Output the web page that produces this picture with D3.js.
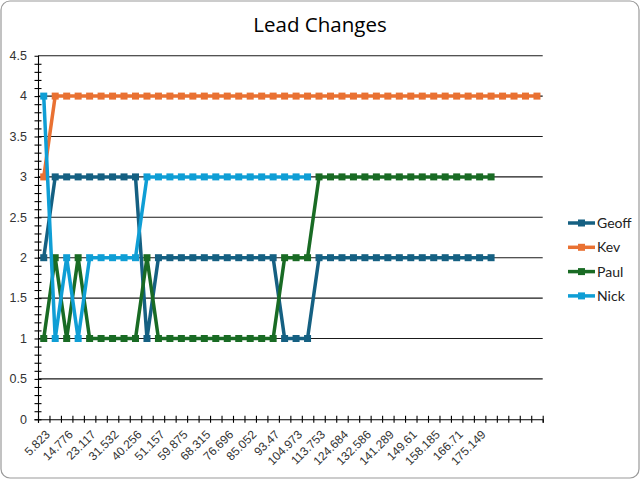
<!DOCTYPE html>
<html>
<head>
<meta charset="utf-8">
<script src="https://cdn.jsdelivr.net/npm/d3@7"></script>
<style>
  html, body { margin: 0; padding: 0; background: #fff; }
  svg { display: block; }
</style>
</head>
<body>
<div id="chart"></div>
<script>
// ---- data ----
const chartTitle = "Lead Changes";
// category labels shown on the axis (every second category; the last categories are unlabeled)
const tickLabels = ["5.823","14.776","23.117","31.532","40.256","51.157","59.875","68.315","76.696","85.052",
  "93.47","104.973","113.753","124.684","132.586","141.289","149.61","158.185","166.71","175.149"];
const categoryCount = 44;
const categories = d3.range(categoryCount);
const seriesNames = ["Geoff", "Kev", "Paul", "Nick"];
const geoff = [2,3,3,3,3,3,3,3,3,1,2,2,2,2,2,2,2,2,2,2,2,1,1,1,2,2,2,2,2,2,2,2,2,2,2,2,2,2,2,2];
const kev   = [3,4,4,4,4,4,4,4,4,4,4,4,4,4,4,4,4,4,4,4,4,4,4,4,4,4,4,4,4,4,4,4,4,4,4,4,4,4,4,4,4,4,4,4];
const paul  = [1,2,1,2,1,1,1,1,1,2,1,1,1,1,1,1,1,1,1,1,1,2,2,2,3,3,3,3,3,3,3,3,3,3,3,3,3,3,3,3];
const nick  = [4,1,2,1,2,2,2,2,2,3,3,3,3,3,3,3,3,3,3,3,3,3,3,3];
const seriesColors = ["#156082", "#E97132", "#196B24", "#0F9ED5"];
const yTicks = [0,0.5,1,1.5,2,2.5,3,3.5,4,4.5];

// ---- layout ----
const W = 641, H = 480;
const plot = { left: 38, right: 542.7, top: 55.7, bottom: 419.3 };

const svg = d3.select("#chart").append("svg").attr("width", W).attr("height", H);

svg.append("rect").attr("x", 1).attr("y", 1).attr("width", W - 3).attr("height", H - 3)
  .attr("rx", 9).attr("fill", "#fff").attr("stroke", "#9a9a9a").attr("stroke-width", 1.2);

const x = d3.scaleBand().domain(categories).range([plot.left, plot.right]).paddingInner(0).paddingOuter(0);
const xEdge = d3.scaleLinear().domain([0, categoryCount]).range([plot.left, plot.right]);
const y = d3.scaleLinear().domain([0, 4.5]).range([plot.bottom, plot.top]);
const cx = i => x(i) + x.bandwidth() / 2;

// title
svg.append("text").attr("x", 320).attr("y", 32).attr("text-anchor", "middle")
  .attr("font-family", "'Open Sans', Lato, sans-serif").attr("font-size", 20.5).attr("fill", "#000")
  .text(chartTitle);

// gridlines
svg.append("g").selectAll("line").data(yTicks.filter(d => d > 0)).join("line")
  .attr("x1", plot.left).attr("x2", plot.right)
  .attr("y1", d => y(d)).attr("y2", d => y(d))
  .attr("stroke", "#1a1a1a").attr("stroke-width", 1.1);

// y axis
const yMinor = d3.range(0, 45).map(d => d / 10);
const yAxis = svg.append("g").attr("transform", `translate(${plot.left},0)`)
  .call(d3.axisLeft(y).tickValues(yMinor).tickSize(3.5).tickFormat(""));
yAxis.select(".domain").attr("stroke", "#000").attr("stroke-width", 1.1);
yAxis.selectAll(".tick line").attr("x1", -3.5).attr("x2", 3.5).attr("stroke", "#000").attr("stroke-width", 1.1);
svg.append("g").selectAll("text").data(yTicks).join("text")
  .attr("x", 27).attr("y", d => y(d)).attr("dy", "0.35em").attr("text-anchor", "end")
  .attr("font-family", "'Liberation Sans', Arial, sans-serif").attr("font-size", 12.5).attr("fill", "#333")
  .text(d => d);

// x axis
const xAxis = svg.append("g").attr("transform", `translate(0,${plot.bottom})`)
  .call(d3.axisBottom(xEdge).tickValues(d3.range(0, categoryCount + 1)).tickSize(3.5).tickFormat(""));
xAxis.select(".domain").attr("stroke", "#000").attr("stroke-width", 1.1);
xAxis.selectAll(".tick line").attr("y1", -3.5).attr("y2", 3.5).attr("stroke", "#000").attr("stroke-width", 1.1);
svg.append("g").selectAll("text").data(tickLabels).join("text")
  .attr("transform", (d, i) => `translate(${cx(i * 2) + 4},${plot.bottom + 13}) rotate(-45)`)
  .attr("text-anchor", "end").attr("dy", "0.35em")
  .attr("font-family", "'Liberation Sans', Arial, sans-serif").attr("font-size", 12).attr("fill", "#333")
  .text(d => d);

// series
const allSeries = [geoff, kev, paul, nick];
const line = d3.line().x((d, i) => cx(i)).y(d => y(d));
allSeries.forEach((vals, s) => {
  const g = svg.append("g");
  g.append("path").datum(vals).attr("d", line).attr("fill", "none")
    .attr("stroke", seriesColors[s]).attr("stroke-width", 3.5).attr("stroke-linejoin", "round");
  g.selectAll("rect").data(vals).join("rect")
    .attr("x", (d, i) => cx(i) - 3.5).attr("y", d => y(d) - 3.5)
    .attr("width", 7).attr("height", 7).attr("fill", seriesColors[s]);
});

// legend
const legend = svg.append("g");
seriesNames.forEach((name, i) => {
  const ly = 223 + i * 24.3;
  legend.append("line").attr("x1", 568).attr("x2", 595).attr("y1", ly).attr("y2", ly)
    .attr("stroke", seriesColors[i]).attr("stroke-width", 3.5);
  legend.append("rect").attr("x", 578).attr("y", ly - 3.5).attr("width", 7).attr("height", 7)
    .attr("fill", seriesColors[i]);
  legend.append("text").attr("x", 597).attr("y", ly).attr("dy", "0.35em")
    .attr("font-family", "Lato, 'Open Sans', sans-serif").attr("font-size", 14).attr("fill", "#222")
    .text(name);
});
</script>
</body>
</html>
